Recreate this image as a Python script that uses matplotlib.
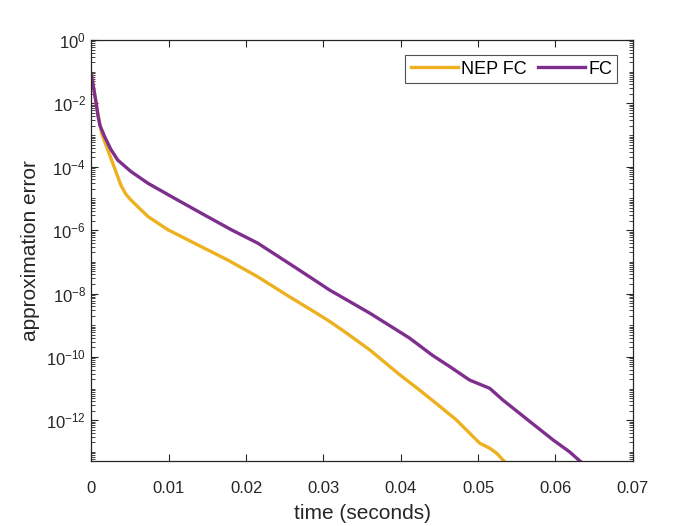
import numpy as np
import matplotlib
matplotlib.use('Agg')
import matplotlib.pyplot as plt
from matplotlib.ticker import LogLocator, FixedLocator, NullFormatter

plt.rcParams['font.family'] = ['Liberation Sans', 'DejaVu Sans']
plt.rcParams['mathtext.fontset'] = 'custom'
plt.rcParams['mathtext.rm'] = 'Liberation Sans'

# time (s) and log10 of the error
t_nep = [0, 0.0006, 0.0013, 0.002, 0.0026, 0.0033, 0.0038, 0.0044, 0.0051, 0.0073, 0.0099,
         0.0133, 0.0176, 0.0215, 0.0252, 0.0291, 0.0308, 0.033, 0.036, 0.0399,
         0.0424, 0.045, 0.0472, 0.0502, 0.0515, 0.0524, 0.0534, 0.0540]
e_nep = [-1.1, -2.0, -2.94, -3.4, -3.79, -4.25, -4.58, -4.85, -5.05, -5.57, -5.99,
         -6.41, -6.94, -7.47, -8.04, -8.62, -8.88, -9.25, -9.78, -10.57,
         -11.04, -11.55, -11.99, -12.72, -12.88, -13.04, -13.30, -13.45]
t_fc = [0, 0.0006, 0.00084, 0.0011, 0.0017, 0.0025, 0.0034, 0.0051, 0.0073, 0.0107,
        0.0146, 0.0181, 0.0215, 0.0265, 0.0308, 0.036, 0.0411, 0.0441, 0.0463, 0.0489,
        0.0504, 0.0515, 0.0532, 0.0567, 0.0597, 0.0618, 0.0631, 0.0640]
e_fc = [-1.1, -1.99, -2.4, -2.7, -3.05, -3.45, -3.79, -4.15, -4.52, -4.99,
        -5.52, -5.99, -6.41, -7.2, -7.89, -8.62, -9.4, -9.95, -10.3, -10.73,
        -10.88, -10.99, -11.36, -12.04, -12.62, -12.99, -13.27, -13.45]

fig = plt.figure(figsize=(7, 5.26), dpi=100)
ax = fig.add_axes([0.1307, 0.123, 0.7733, 0.801])

ax.semilogy(t_nep, 10.0 ** np.array(e_nep), color='#EDB120', lw=2.4, label='NEP FC')
ax.semilogy(t_fc, 10.0 ** np.array(e_fc), color='#7E2F8E', lw=2.4, label='FC')

ax.set_xlim(0, 0.07)
ax.set_ylim(5.1e-14, 1)
ax.set_xticks(np.arange(0, 0.071, 0.01))
ax.set_xticklabels(['0', '0.01', '0.02', '0.03', '0.04', '0.05', '0.06', '0.07'])
ax.yaxis.set_major_locator(FixedLocator([10.0 ** k for k in range(-12, 1, 2)]))
ax.yaxis.set_minor_locator(LogLocator(base=10, subs=np.arange(1, 10), numticks=100))
ax.yaxis.set_minor_formatter(NullFormatter())

ax.tick_params(which='both', direction='in', top=True, right=True,
               colors='#262626', labelsize=12)
ax.tick_params(which='major', length=5, width=0.8)
ax.tick_params(which='minor', length=3, width=0.6)
ax.tick_params(axis='x', pad=14)
ax.tick_params(axis='y', pad=4)
for s in ax.spines.values():
    s.set_color('#262626')
    s.set_linewidth(0.9)

ax.set_xlabel('time (seconds)', fontsize=15, color='#262626', labelpad=6)
ax.set_ylabel('approximation error', fontsize=15, color='#262626', labelpad=4)

leg = ax.legend(loc='upper right', ncol=2, fontsize=13, frameon=True, fancybox=False,
                edgecolor='#262626', handlelength=2.6, columnspacing=0.6,
                handletextpad=0.2, borderpad=0.3, borderaxespad=0.85)
leg.get_frame().set_linewidth(0.8)

plt.savefig('out.png', dpi=100)
plt.close()
